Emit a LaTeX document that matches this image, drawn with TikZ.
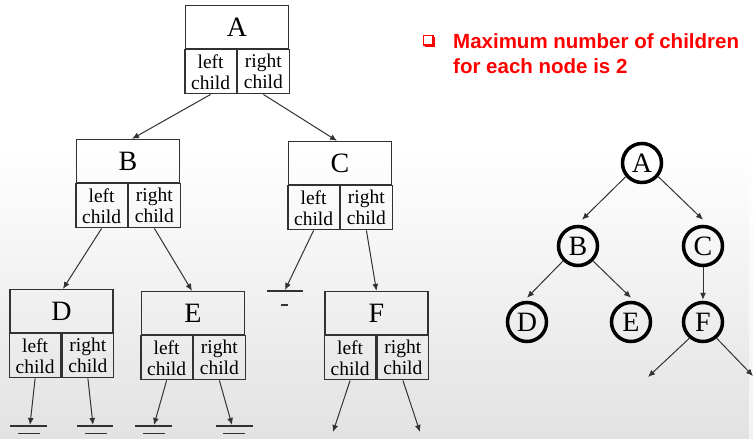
\documentclass[tikz,border=0pt]{standalone}
\usepackage{fontspec}
\setmainfont{Liberation Serif}
\newfontfamily\notefont{Liberation Sans}
\usetikzlibrary{arrows.meta}
\definecolor{bggray}{RGB}{226,226,226}
\definecolor{linec}{RGB}{50,50,50}
\definecolor{notered}{RGB}{255,0,0}
\begin{document}
\begin{tikzpicture}[x=1pt,y=-1pt,
  topbox/.style={draw=linec, line width=1.3pt, minimum width=103pt, minimum height=43pt, inner sep=0pt, font=\fontsize{28}{30}\selectfont},
  halfbox/.style={draw=linec, line width=1.3pt, minimum width=51.5pt, minimum height=44pt, inner sep=0pt, align=center, font=\fontsize{19.5}{21}\selectfont},
  conn/.style={draw=linec, line width=1pt, -{Latex[length=7pt,width=6pt]}},
  gnd/.style={draw=linec, line width=1.2pt},
  circ/.style={circle, draw=black, line width=3.5pt, minimum size=39pt, inner sep=0pt, font=\fontsize{28}{30}\selectfont},
  note/.style={anchor=base west, inner sep=0pt, text=notered, font=\notefont\bfseries\fontsize{20.5}{25}\selectfont}]
% background
\useasboundingbox (0,0) rectangle (753,439);
\fill[white] (0,0) rectangle (753,150);
\shade[top color=white, bottom color=bggray] (0,150) rectangle (753,439);
\fill[white, opacity=0.6] (749,150) rectangle (753,439);

% record boxes
\node[topbox] (A) at (237,27) {A};
\node[halfbox, anchor=north east] (Al) at (A.south) {left\\child};
\node[halfbox, anchor=north west] (Ar) at (A.south) {right\\child};

\node[topbox] (B) at (128,161) {B};
\node[halfbox, anchor=north east] (Bl) at (B.south) {left\\child};
\node[halfbox, anchor=north west] (Br) at (B.south) {right\\child};

\node[topbox] (C) at (340,163) {C};
\node[halfbox, anchor=north east] (Cl) at (C.south) {left\\child};
\node[halfbox, anchor=north west] (Cr) at (C.south) {right\\child};

\node[topbox] (D) at (61.5,311) {D};
\node[halfbox, anchor=north east] (Dl) at (D.south) {left\\child};
\node[halfbox, anchor=north west] (Dr) at (D.south) {right\\child};

\node[topbox] (E) at (193,313) {E};
\node[halfbox, anchor=north east] (El) at (E.south) {left\\child};
\node[halfbox, anchor=north west] (Er) at (E.south) {right\\child};

\node[topbox] (F) at (376.5,313) {F};
\node[halfbox, anchor=north east] (Fl) at (F.south) {left\\child};
\node[halfbox, anchor=north west] (Fr) at (F.south) {right\\child};

% connectors between records
\draw[conn] (Al.south) -- ([xshift=4pt]B.north);
\draw[conn] (Ar.south) -- ([xshift=-3pt]C.north);
\draw[conn] (Bl.south) -- ([xshift=1.5pt]D.north);
\draw[conn] (Br.south) -- ([xshift=-1pt]E.north);
\draw[conn] (Cr.south) -- (F.north);

% null (ground) ends
\coordinate (gC) at (285,290);
\coordinate (gD1) at (30,425);
\coordinate (gD2) at (93,425);
\coordinate (gE1) at (154,425);
\coordinate (gE2) at (232,425);
\coordinate (fF1) at (333,432);
\coordinate (fF2) at (420,432);

\draw[conn] (Cl.south) -- (gC);
\draw[gnd] (267,291) -- (303,291);
\draw[gnd] (281,305) -- (288,305);

\draw[conn] (Dl.south) -- (gD1);
\draw[gnd] (10,426) -- (47,426);
\draw[gnd] (18,433.5) -- (40,433.5);

\draw[conn] (Dr.south) -- (gD2);
\draw[gnd] (77,426) -- (113,426);
\draw[gnd] (85,433.5) -- (107,433.5);

\draw[conn] (El.south) -- (gE1);
\draw[gnd] (135,426) -- (172,426);
\draw[gnd] (143,433.5) -- (165,433.5);

\draw[conn] (Er.south) -- (gE2);
\draw[gnd] (216,426) -- (253,426);
\draw[gnd] (223,433.5) -- (245,433.5);

\draw[conn] (Fl.south) -- (fF1);
\draw[conn] (Fr.south) -- (fF2);

% note
\draw[notered, line width=1.1pt] (423.5,35.5) rectangle (433,45);
\draw[notered, line width=2.2pt] (425,46.3) -- (434.3,46.3) -- (434.3,37);
\node[note] (n1) at (453,48) {Maximum number of children};
\node[note] (n2) at (453,73) {for each node is 2};

% circle tree
\node[circ] (cA) at (642,163) {A};
\node[circ] (cB) at (578,246) {B};
\node[circ] (cC) at (703,246) {C};
\node[circ] (cD) at (527,322) {D};
\node[circ] (cE) at (631,322) {E};
\node[circ] (cF) at (703,322) {F};
\coordinate (cF1) at (648,377);
\coordinate (cF2) at (753,376);

\draw[conn] (cA.-140) -- ([xshift=4pt,yshift=5pt]cB.north);
\draw[conn] (cA.-40) -- ([yshift=5pt]cC.north);
\draw[conn] (cB.-135) -- ([yshift=3pt]cD.north);
\draw[conn] (cB.-45) -- ([yshift=3pt]cE.north);
\draw[conn] (cC.south) -- ([yshift=1pt]cF.north);
\draw[conn] (cF.-130) -- (cF1);
\draw[conn] (cF.-50) -- (cF2);
\end{tikzpicture}
\end{document}
